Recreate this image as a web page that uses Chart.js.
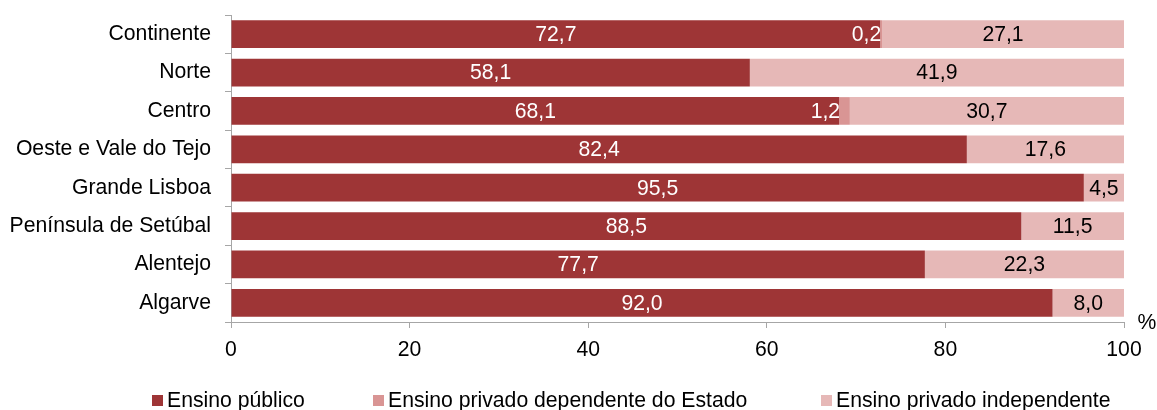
<html><head><meta charset="utf-8"><title>Ensino por região</title>
<style>
    body {
        margin: 0;
        padding: 0;
        background-color: #fff;
        font-family: "Liberation Sans", Arial, sans-serif;
    }
    .chart-container {
        position: relative;
        width: 1157px;
        height: 410px;
    }
</style>
<script src="https://cdn.jsdelivr.net/npm/chart.js"></script>
</head>
<body>
    <div class="chart-container">
        <canvas id="ensinoChart"></canvas>
    </div>

<script>
// Data
const regions = ['Continente', 'Norte', 'Centro', 'Oeste e Vale do Tejo', 'Grande Lisboa',
    'Península de Setúbal', 'Alentejo', 'Algarve'];
const publico = [72.7, 58.1, 68.1, 82.4, 95.5, 88.5, 77.7, 92.0];
const privadoDependente = [0.2, 0, 1.2, 0, 0, 0, 0, 0];
const privadoIndependente = [27.1, 41.9, 30.7, 17.6, 4.5, 11.5, 22.3, 8.0];
const xTicks = [0, 20, 40, 60, 80, 100];
const seriesNames = ['Ensino público', 'Ensino privado dependente do Estado', 'Ensino privado independente'];

const colors = ['#9e3536', '#d99594', '#e6b8b7'];
const FONT = '"Liberation Sans", Arial, sans-serif';
const SIZE = 21.2;
const fmt = v => v.toFixed(1).replace('.', ',');

// value labels drawn on the bars
const barLabels = {
    id: 'barLabels',
    afterDatasetsDraw(chart) {
        const ctx = chart.ctx;
        ctx.save();
        ctx.font = SIZE + 'px ' + FONT;
        ctx.textBaseline = 'middle';
        chart.data.datasets.forEach((ds, i) => {
            const meta = chart.getDatasetMeta(i);
            meta.data.forEach((bar, j) => {
                const v = ds.data[j];
                if (!v) return;
                if (i === 1) {
                    ctx.fillStyle = '#fff';
                    ctx.textAlign = 'right';
                    ctx.fillText(fmt(v), bar.base + 1, bar.y + 1);
                } else {
                    ctx.fillStyle = i === 0 ? '#fff' : '#000';
                    ctx.textAlign = 'center';
                    ctx.fillText(fmt(v), (bar.x + bar.base) / 2, bar.y + 1);
                }
            });
        });
        ctx.restore();
    }
};

// legend and % unit
const extras = {
    id: 'extras',
    afterDraw(chart) {
        const ctx = chart.ctx;
        ctx.save();
        ctx.font = SIZE + 'px ' + FONT;
        ctx.textBaseline = 'middle';
        ctx.textAlign = 'left';
        const xs = [152, 373, 821];
        seriesNames.forEach((name, i) => {
            ctx.fillStyle = colors[i];
            ctx.fillRect(xs[i], 395, 11, 11);
            ctx.fillStyle = '#000';
            ctx.fillText(name, xs[i] + 15, 401);
        });
        ctx.textAlign = 'center';
        ctx.fillText('%', 1147, 323);
        ctx.restore();
    }
};

new Chart(document.getElementById('ensinoChart'), {
    type: 'bar',
    data: {
        labels: regions,
        datasets: [
            { label: seriesNames[0], data: publico, backgroundColor: colors[0] },
            { label: seriesNames[1], data: privadoDependente, backgroundColor: colors[1] },
            { label: seriesNames[2], data: privadoIndependente, backgroundColor: colors[2] }
        ]
    },
    options: {
        indexAxis: 'y',
        responsive: true,
        maintainAspectRatio: false,
        animation: false,
        layout: { padding: { left: 0, right: 33, top: 15, bottom: 48 } },
        datasets: { bar: { categoryPercentage: 1, barPercentage: 0.72 } },
        scales: {
            x: {
                stacked: true,
                min: 0,
                max: 100,
                afterBuildTicks: s => { s.ticks = xTicks.map(v => ({ value: v })); },
                afterFit: s => { s.height = 40; s.paddingLeft = 0; s.paddingRight = 0; },
                grid: { drawOnChartArea: false, drawTicks: true, tickLength: 6, color: '#a6a6a6' },
                border: { color: '#a6a6a6', width: 1 },
                ticks: { color: '#000', padding: 9, font: { family: FONT, size: SIZE } }
            },
            y: {
                stacked: true,
                afterFit: s => { s.width = 231; s.paddingTop = 0; s.paddingBottom = 0; },
                grid: { drawOnChartArea: false, drawTicks: true, tickLength: 6, offset: true, color: '#a6a6a6' },
                border: { color: '#a6a6a6', width: 1 },
                ticks: { color: '#000', padding: 14, font: { family: FONT, size: SIZE } }
            }
        },
        plugins: {
            legend: { display: false },
            tooltip: { enabled: false }
        }
    },
    plugins: [barLabels, extras]
});
</script>
</body></html>
